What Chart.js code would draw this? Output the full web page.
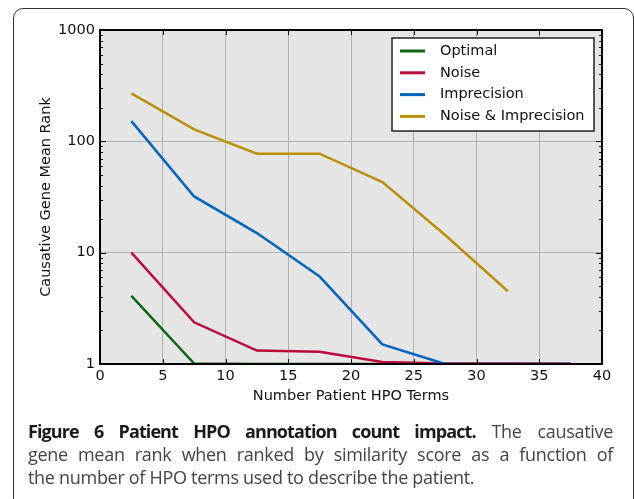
<!DOCTYPE html>
<html>
<head>
<meta charset="utf-8">
<script src="https://cdn.jsdelivr.net/npm/chart.js@4.4.0/dist/chart.umd.min.js"></script>
<style>
  html, body { margin: 0; padding: 0; background: #fff; }
  #wrap { position: relative; width: 634px; height: 499px; overflow: hidden; }
  #frame { position: absolute; left: 13px; top: 8px; width: 621px; height: 500px;
           border: 1.3px solid #333; border-radius: 10px; box-sizing: border-box; }
  #grafico { position: absolute; left: 0; top: 0; }
  #caption { position: absolute; left: 28px; top: 420px; width: 585px; font-family: 'Open Sans', sans-serif;
             font-size: 18px; letter-spacing: -0.3px; line-height: 23px; color: #444; white-space: nowrap; }
  #caption .j { text-align: justify; text-align-last: justify; }
  #caption b { color: #1a1a1a; letter-spacing: -0.9px; }
</style>
</head>
<body>
<div id="wrap">
  <div id="frame"></div>
  <canvas id="grafico" width="634" height="499"></canvas>
  <div id="caption">
    <div class="j"><b>Figure 6 Patient HPO annotation count impact.</b> The causative</div>
    <div class="j">gene mean rank when ranked by similarity score as a function of</div>
    <div>the number of HPO terms used to describe the patient.</div>
  </div>
</div>
<script>
// Datos
const xValues = [2.5, 7.5, 12.5, 17.5, 22.5, 27.5, 32.5, 37.5];
const optimal = [4.1, 1.01, 1, 1, 1, 1, 1, 1];
const noise = [10, 2.37, 1.32, 1.29, 1.04, 1.01, 1.01, 1.005];
const imprecision = [152, 32, 15, 6.1, 1.5, 1, 1, 1];
const noiseImprecision = [270, 128, 77.5, 77.5, 43, 14.4, 4.5];

const seriesLabels = ['Optimal', 'Noise', 'Imprecision', 'Noise & Imprecision'];
const seriesColors = ['#0d6614', '#bb0a3c', '#0065bd', '#b8900a'];
const seriesValues = [optimal, noise, imprecision, noiseImprecision];

const xTicks = [0, 5, 10, 15, 20, 25, 30, 35, 40];
const yTicks = [1, 10, 100, 1000];

const fuente = 'DejaVu Sans';

// Fondo gris del area del grafico
const fondoPlugin = {
  id: 'fondo',
  beforeDraw(chart) {
    const { ctx, chartArea: a } = chart;
    ctx.save();
    ctx.fillStyle = '#e5e5e5';
    ctx.fillRect(a.left, a.top, a.right - a.left, a.bottom - a.top);
    ctx.restore();
  }
};

// Marco negro, ticks hacia adentro y leyenda (estilo matplotlib)
const marcoPlugin = {
  id: 'marco',
  afterDatasetsDraw(chart) {
    const { ctx, chartArea: a, scales } = chart;
    ctx.save();
    ctx.strokeStyle = '#000';
    ctx.lineWidth = 1;
    ctx.beginPath();
    xTicks.forEach(v => {
      const px = Math.round(scales.x.getPixelForValue(v)) + 0.5;
      ctx.moveTo(px, a.bottom); ctx.lineTo(px, a.bottom - 5);
      ctx.moveTo(px, a.top); ctx.lineTo(px, a.top + 5);
    });
    yTicks.forEach((d, i) => {
      const lim = i < yTicks.length - 1 ? 9 : 1;
      for (let k = 1; k <= lim; k++) {
        const py = Math.round(scales.y.getPixelForValue(k * d)) + 0.5;
        const len = k === 1 ? 6 : 3;
        ctx.moveTo(a.left, py); ctx.lineTo(a.left + len, py);
        ctx.moveTo(a.right, py); ctx.lineTo(a.right - len, py);
      }
    });
    ctx.stroke();

    ctx.lineWidth = 2;
    ctx.strokeRect(a.left, a.top, a.right - a.left, a.bottom - a.top);

    // leyenda
    const w = 202, h = 93;
    const lx = a.right - 8 - w, ly = a.top + 8;
    ctx.fillStyle = '#fff';
    ctx.fillRect(lx, ly, w, h);
    ctx.lineWidth = 1.5;
    ctx.strokeStyle = '#222';
    ctx.strokeRect(lx, ly, w, h);
    ctx.font = '14.5px "' + fuente + '"';
    ctx.textBaseline = 'middle';
    chart.data.datasets.forEach((ds, i) => {
      const cy = ly + 13 + i * 21.8;
      ctx.strokeStyle = ds.borderColor;
      ctx.lineWidth = 3;
      ctx.beginPath();
      ctx.moveTo(lx + 8, cy); ctx.lineTo(lx + 33, cy);
      ctx.stroke();
      ctx.fillStyle = '#111';
      ctx.fillText(ds.label, lx + 48, cy);
    });
    ctx.restore();
  }
};

const ctx = document.getElementById('grafico').getContext('2d');
new Chart(ctx, {
  type: 'line',
  data: {
    datasets: seriesValues.map((vals, i) => ({
      label: seriesLabels[i],
      data: vals.map((v, j) => ({ x: xValues[j], y: v })),
      borderColor: seriesColors[i],
      backgroundColor: seriesColors[i],
      borderWidth: 2.5,
      pointRadius: 0,
      tension: 0,
      fill: false,
      clip: 0,
      order: seriesValues.length - 1 - i
    }))
  },
  options: {
    responsive: false,
    animation: false,
    layout: { padding: { left: 36, right: 32, top: 30, bottom: 92 } },
    plugins: { legend: { display: false }, tooltip: { enabled: false } },
    scales: {
      x: {
        type: 'linear',
        min: 0, max: 40,
        afterBuildTicks: s => { s.ticks = xTicks.map(v => ({ value: v })); },
        afterFit: s => { s.height = 43; },
        grid: { color: '#b0b0b0', lineWidth: 1, drawTicks: false },
        border: { display: false },
        ticks: { color: '#111', padding: 4, font: { family: fuente, size: 14.5 } },
        title: { display: true, text: 'Number Patient HPO Terms', color: '#111',
                 font: { family: fuente, size: 14.5 }, padding: { top: 0, bottom: 2 } }
      },
      y: {
        type: 'logarithmic',
        min: 1, max: 1000,
        afterBuildTicks: s => { s.ticks = yTicks.map(v => ({ value: v })); },
        afterFit: s => { s.width = 64; },
        grid: { color: '#b0b0b0', lineWidth: 1, drawTicks: false },
        border: { display: false },
        ticks: { color: '#111', padding: 5, font: { family: fuente, size: 14.5 },
                 callback: v => String(v) },
        title: { display: true, text: 'Causative Gene Mean Rank', color: '#111',
                 font: { family: fuente, size: 14.5 }, padding: { top: 2, bottom: 0 } }
      }
    }
  },
  plugins: [fondoPlugin, marcoPlugin]
});
</script>
</body>
</html>
